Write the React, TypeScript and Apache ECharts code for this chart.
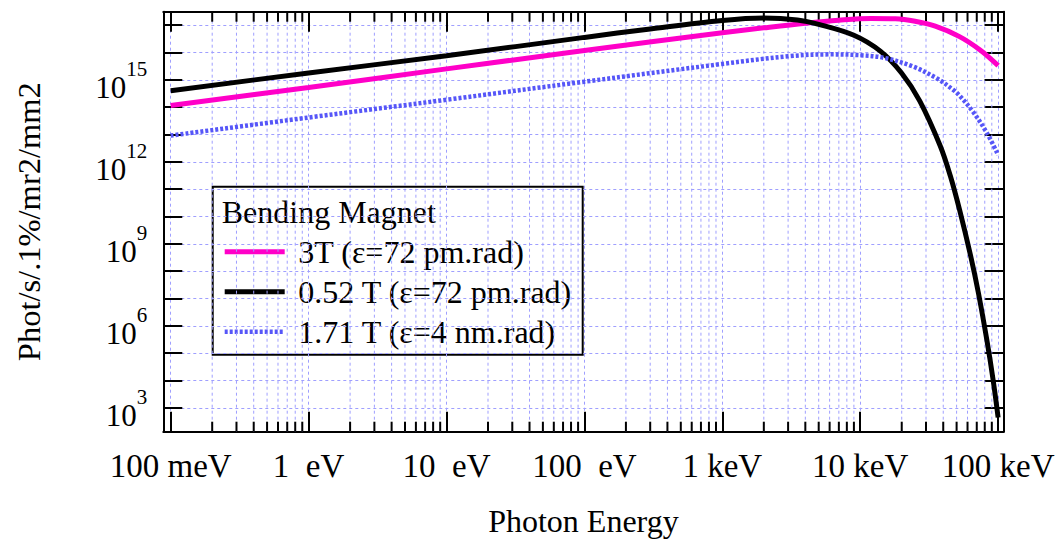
import React, { useEffect, useRef } from 'react';
import * as echarts from 'echarts';

// Photon energy samples (eV) and on-axis brightness (phot/s/0.1%bw/mrad²/mm²)
const energy3T = [0.1, 1, 10, 100, 1000, 2000, 4000, 7000, 12000, 18000, 25000, 35000, 52500, 74000, 100000];
const brightness3T = [1.15e14, 5.25e14, 2.51e15, 1.17e16, 5.25e16, 7.94e16, 1.17e17, 1.51e17, 1.74e17, 1.7e17, 1.38e17, 9.12e16, 3.8e16, 1.23e16, 3.31e15];

const energy052T = [0.1, 1, 10, 100, 300, 1000, 2000, 3500, 5000, 9000, 14000, 20000, 27000, 38000, 45000, 52500, 63000, 72000, 83000, 92000, 100000];
const brightness052T = [3.98e14, 1.78e15, 7.59e15, 3.55e16, 7.24e16, 1.48e17, 1.82e17, 1.55e17, 1.07e17, 4.27e16, 1.12e16, 1.74e15, 1.7e14, 3.89e12, 3.09e11, 1.78e10, 3.89e8, 1.58e7, 2.88e5, 1.05e4, 4.47e2];

const energy171T = [0.1, 1, 10, 100, 1000, 3000, 6000, 10000, 15000, 24000, 36000, 47000, 52500, 66000, 82600, 100000];
const brightness171T = [9.12e12, 4.17e13, 1.86e14, 8.51e14, 3.8e15, 7.24e15, 8.51e15, 7.94e15, 6.31e15, 3.09e15, 1.12e15, 4.37e14, 2.63e14, 6.61e13, 1.17e13, 1.78e12];

const seriesNames = ['3T (ε=72 pm.rad)', '0.52 T (ε=72 pm.rad)', '1.71 T (ε=4 nm.rad)'];
const legendTitle = 'Bending Magnet';

// Axis extents (eV and brightness) and decade tick labels
const energyRange = [0.0884, 109400];
const brightnessRange = [135, 3.09e17];
const energyDecades = [-1, 0, 1, 2, 3, 4, 5];
const energyDecadeLabels = ['100 meV', '1  eV', '10  eV', '100  eV', '1 keV', '10 keV', '100 keV'];
const labelledBrightnessExponents = [3, 6, 9, 12, 15];
const minorMultipliers = [2, 3, 4, 5, 6, 7, 8, 9];

const FONT = '"Liberation Serif", "Times New Roman", serif';
const GRID_COLOR = '#9f9fff';
const MAGENTA = '#ff00c8';
const BLACK = '#000000';
const BLUE = '#5656f8';

const lg = (v: number) => Math.log10(v);
const toPoints = (es: number[], bs: number[]) => es.map((e, i) => [lg(e), lg(bs[i])]);
const isInt = (v: number) => Math.abs(v - Math.round(v)) < 1e-6;

function buildOption() {
  const xMin = lg(energyRange[0]);
  const xMax = lg(energyRange[1]);
  const yMin = lg(brightnessRange[0]);
  const yMax = lg(brightnessRange[1]);

  // Logarithmic minor positions (2..9 within each decade)
  const minorPositions: number[][] = [];
  for (let d = energyDecades[0]; d < energyDecades[energyDecades.length - 1]; d++) {
    for (const m of minorMultipliers) {
      const p = lg(m) + d;
      if (p > xMin && p < xMax) minorPositions.push([p, yMin]);
    }
  }

  const axisLine = { show: true, onZero: false, lineStyle: { color: BLACK, width: 2 } };
  const splitLine = { show: true, lineStyle: { color: GRID_COLOR, width: 1, type: [3, 3] } };

  const lineDefs = [
    { name: seriesNames[0], data: toPoints(energy3T, brightness3T), color: MAGENTA, width: 5, dash: null as number[] | null },
    { name: seriesNames[1], data: toPoints(energy052T, brightness052T), color: BLACK, width: 5, dash: null as number[] | null },
    { name: seriesNames[2], data: toPoints(energy171T, brightness171T), color: BLUE, width: 4.5, dash: [3, 2] },
  ];

  const legendChildren: any[] = [
    {
      type: 'rect',
      shape: { x: 0, y: 0, width: 370, height: 168 },
      style: { fill: '#ffffff', stroke: BLACK, lineWidth: 2 },
    },
    {
      type: 'text',
      x: 9,
      y: 25,
      style: { text: legendTitle, font: `32px ${FONT}`, fill: BLACK, verticalAlign: 'middle', align: 'left' },
    },
  ];
  lineDefs.forEach((d, i) => {
    const y = 65 + i * 40;
    const style: any = { stroke: d.color, lineWidth: d.width };
    if (d.dash) style.lineDash = d.dash;
    legendChildren.push({ type: 'line', shape: { x1: 12, y1: y, x2: 72, y2: y }, style });
    legendChildren.push({
      type: 'text',
      x: 85.6,
      y,
      style: { text: d.name, font: `32px ${FONT}`, fill: BLACK, verticalAlign: 'middle', align: 'left' },
    });
  });

  return {
    animation: false,
    backgroundColor: '#ffffff',
    grid: {
      left: 163.3,
      top: 11.7,
      width: 840.2,
      height: 420,
      containLabel: false,
      outerBoundsMode: 'none',
    },
    xAxis: [
      {
        type: 'value',
        position: 'bottom',
        min: xMin,
        max: xMax,
        splitNumber: 6,
        minInterval: 1,
        maxInterval: 1,
        axisLine,
        axisTick: { show: true, inside: true, length: 20, lineStyle: { color: BLACK, width: 2 } },
        axisLabel: {
          show: true,
          margin: 18,
          color: BLACK,
          fontSize: 33,
          fontFamily: FONT,
          formatter: (v: number) => {
            if (!isInt(v)) return '';
            const i = energyDecades.indexOf(Math.round(v));
            return i >= 0 ? energyDecadeLabels[i] : '';
          },
        },
        splitLine,
        name: 'Photon Energy',
        nameLocation: 'middle',
        nameGap: 73,
        nameTextStyle: { color: BLACK, fontSize: 32, fontFamily: FONT },
      },
      {
        type: 'value',
        position: 'top',
        min: xMin,
        max: xMax,
        splitNumber: 6,
        minInterval: 1,
        maxInterval: 1,
        axisLine,
        axisTick: { show: true, inside: true, length: 20, lineStyle: { color: BLACK, width: 2 } },
        axisLabel: { show: false },
        splitLine: { show: false },
      },
    ],
    yAxis: [
      {
        type: 'value',
        position: 'left',
        min: yMin,
        max: yMax,
        splitNumber: 15,
        minInterval: 1,
        maxInterval: 1,
        axisLine,
        axisTick: { show: true, inside: true, length: 19, lineStyle: { color: BLACK, width: 2 } },
        axisLabel: {
          show: true,
          margin: 16,
          color: BLACK,
          fontFamily: FONT,
          formatter: (v: number) => {
            if (!isInt(v)) return '';
            const n = Math.round(v);
            return labelledBrightnessExponents.includes(n) ? `{b|10}{s|${n}}` : '';
          },
          rich: {
            b: { fontSize: 31, fontFamily: FONT, color: BLACK, lineHeight: 46, verticalAlign: 'bottom' },
            s: { fontSize: 21, fontFamily: FONT, color: BLACK, lineHeight: 24, verticalAlign: 'top', padding: [2, 0, 0, 0] },
          },
        },
        splitLine,
        name: 'Phot/s/.1%/mr2/mm2',
        nameLocation: 'middle',
        nameGap: 118,
        nameRotate: 90,
        nameTextStyle: { color: BLACK, fontSize: 32.5, fontFamily: FONT },
      },
      {
        type: 'value',
        position: 'right',
        min: yMin,
        max: yMax,
        splitNumber: 15,
        minInterval: 1,
        maxInterval: 1,
        axisLine,
        axisTick: { show: true, inside: true, length: 19, lineStyle: { color: BLACK, width: 2 } },
        axisLabel: { show: false },
        splitLine: { show: false },
      },
    ],
    series: [
      {
        type: 'custom',
        name: 'minor-grid',
        xAxisIndex: 0,
        yAxisIndex: 0,
        z: 1,
        silent: true,
        data: minorPositions,
        encode: { x: 0, y: 1 },
        renderItem: (_params: any, api: any) => {
          const x = api.value(0);
          const bottom = api.coord([x, yMin]);
          const top = api.coord([x, yMax]);
          return {
            type: 'group',
            children: [
              {
                type: 'line',
                shape: { x1: bottom[0], y1: bottom[1], x2: top[0], y2: top[1] },
                style: { stroke: GRID_COLOR, lineWidth: 1, lineDash: [3, 3] },
              },
              {
                type: 'line',
                shape: { x1: bottom[0], y1: bottom[1], x2: bottom[0], y2: bottom[1] - 10 },
                style: { stroke: BLACK, lineWidth: 2 },
              },
              {
                type: 'line',
                shape: { x1: top[0], y1: top[1], x2: top[0], y2: top[1] + 10 },
                style: { stroke: BLACK, lineWidth: 2 },
              },
            ],
          };
        },
      },
      ...lineDefs.map((d) => ({
        type: 'line',
        name: d.name,
        xAxisIndex: 0,
        yAxisIndex: 0,
        data: d.data,
        symbol: 'none',
        showSymbol: false,
        smooth: 0.35,
        z: 3,
        lineStyle: { color: d.color, width: d.width, type: d.dash ? d.dash : 'solid' },
        itemStyle: { color: d.color },
      })),
    ],
    graphic: [
      {
        type: 'group',
        x: 212.7,
        y: 186.7,
        z: 100,
        children: legendChildren,
      },
    ],
  };
}

export default function App() {
  const ref = useRef<HTMLDivElement>(null);
  useEffect(() => {
    if (!ref.current) return;
    const chart = echarts.init(ref.current, null, { renderer: 'svg' });
    chart.setOption(buildOption() as any);
    return () => chart.dispose();
  }, []);
  return (
    <div
      ref={ref}
      style={{ position: 'fixed', left: 0, top: 0, width: 1055, height: 539, background: '#ffffff' }}
    />
  );
}
